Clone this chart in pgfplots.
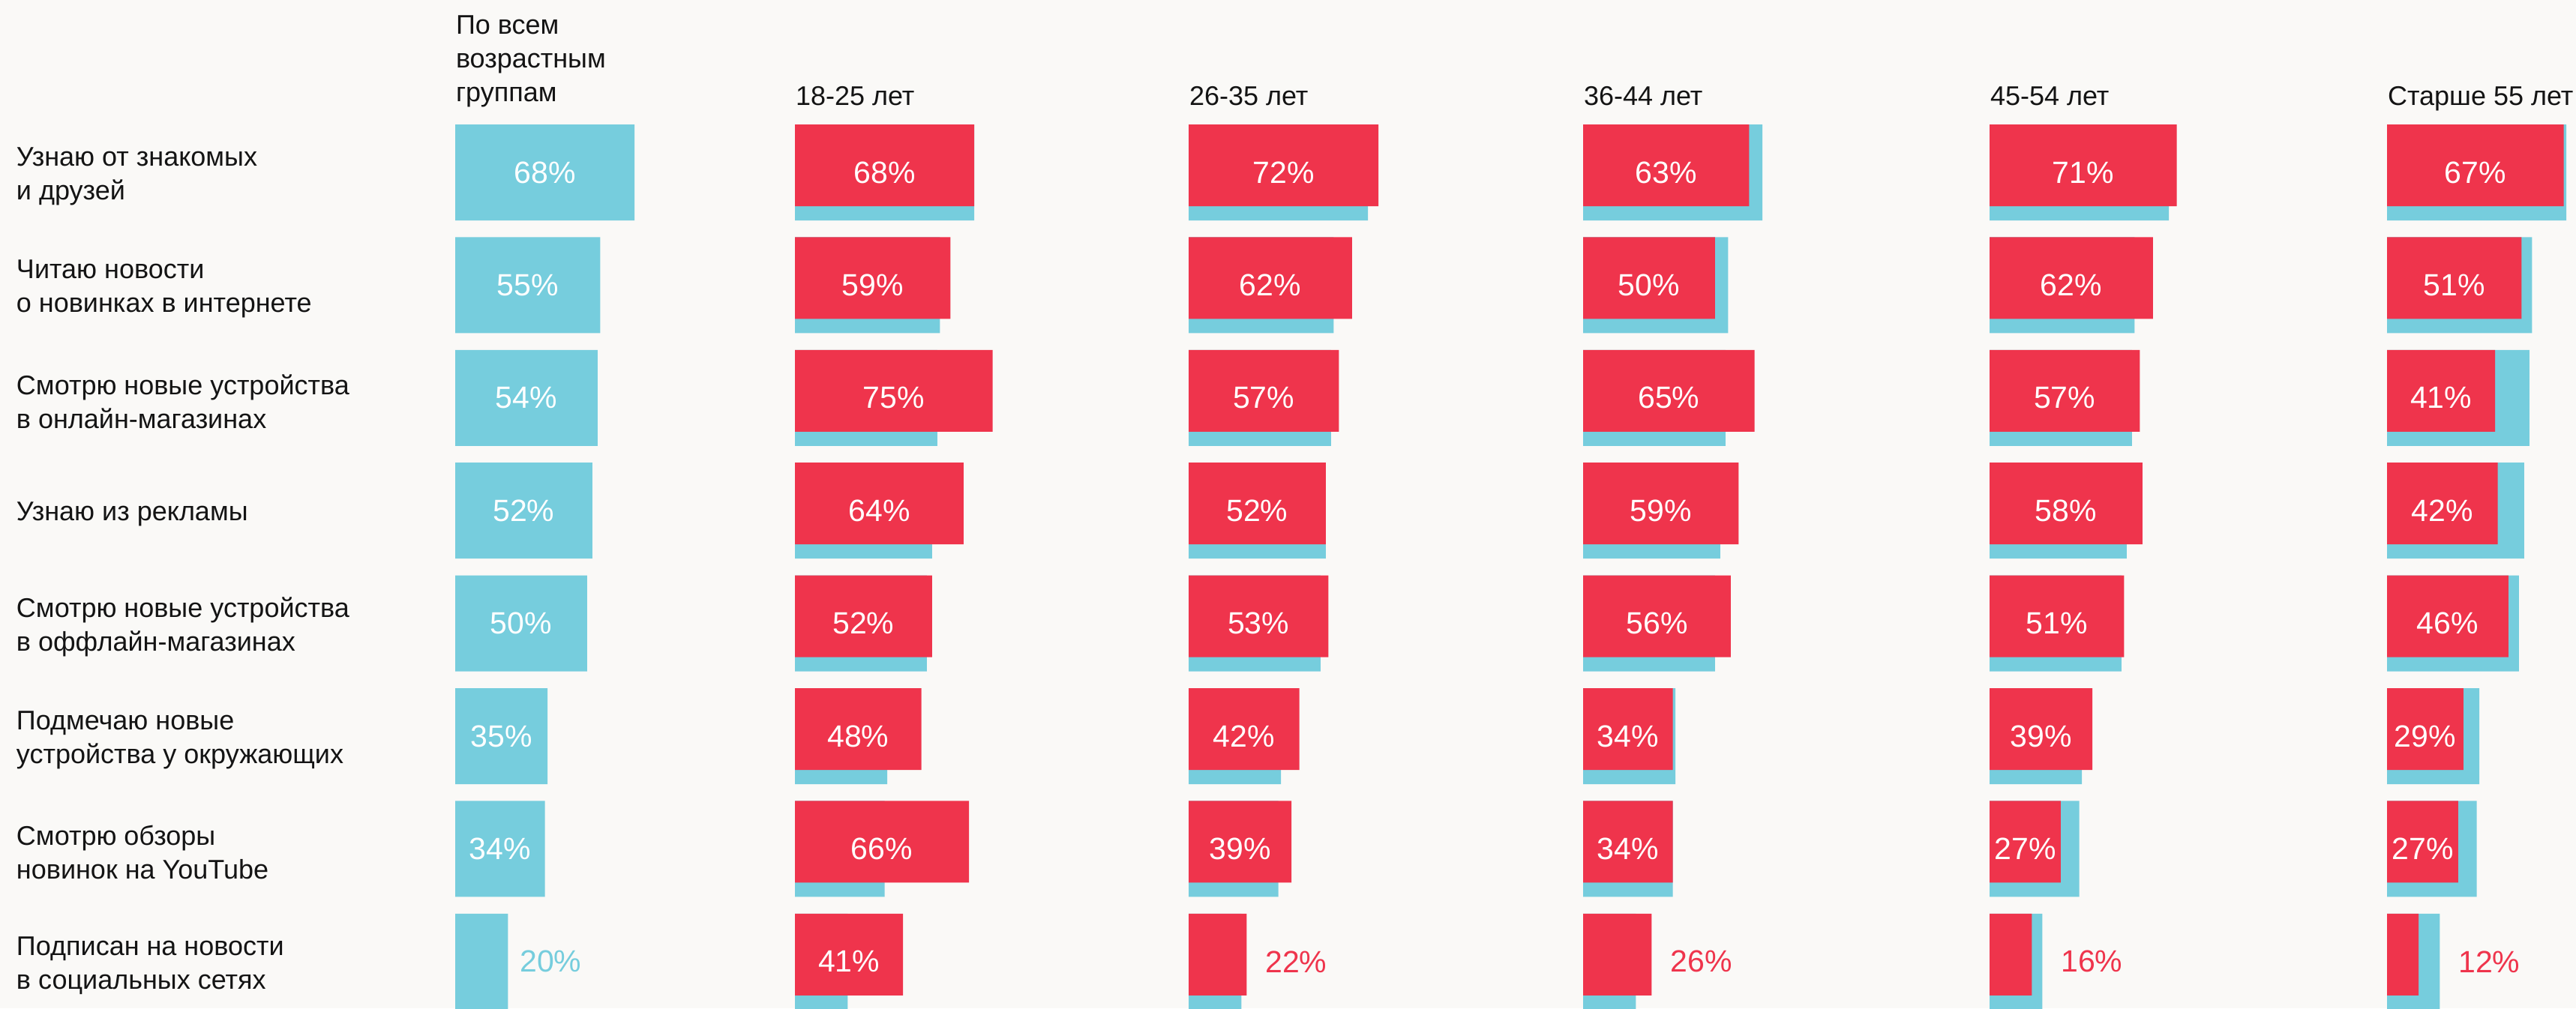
\documentclass[border=0pt]{standalone}
\usepackage{fontspec}
\setmainfont{Liberation Sans}
\usepackage{pgfplots}
\usepackage{pgfplotstable}
\pgfplotsset{compat=1.18}

\definecolor{bgc}{HTML}{FAF9F7}
\definecolor{blu}{HTML}{76CDDD}
\definecolor{rd}{HTML}{EF344C}
\definecolor{ink}{HTML}{141414}

\newcommand\lblfont{\fontsize{7.2}{9}\selectfont}
\newcommand\pctfont{\fontsize{8.2}{9}\selectfont}

% ov = all ages, a..e = 18-25, 26-35, 36-44, 45-54, 55+ (in %)
\pgfplotstableread{
row ov a  b  c  d  e
0   68 68 72 63 71 67
1   55 59 62 50 62 51
2   54 75 57 65 57 41
3   52 64 52 59 58 42
4   50 52 53 56 51 46
5   35 48 42 34 39 29
6   34 66 39 34 27 27
7   20 41 22 26 16 12
}\data

\pgfplotsset{
  /pgf/number format/assume math mode=true,
  panel/.style={
    scale only axis, width=70.3pt, height=240.64pt,
    xmin=0, xmax=100, ymin=-0.5, ymax=7.5, y dir=reverse,
    clip=false, anchor=north west,
  },
  bluebar/.style={xbar, bar width=25.6pt, bar shift=0pt, fill=blu, draw=none},
  redbar/.style={xbar, bar width=21.8pt, bar shift=1.9pt, fill=rd, draw=none},
  % #1 column, #2 colour of a label outside the bar, #3 gap
  pct/.style n args={3}{
    nodes near coords={\pgfmathprintnumber[fixed,precision=0,assume math mode=true]{\vv}\%},
    visualization depends on={\thisrow{#1}\as\vv},
    visualization depends on={\thisrow{ov}\as\ov},
    every node near coord/.append style={font=\pctfont, inner sep=0pt},
    every node near coord/.append code={%
      \pgfmathparse{\vv>26.5 ? 1 : 0}%
      \ifdim\pgfmathresult pt>0.5pt
        \pgfkeysalso{anchor=center, text=white, xshift={-\vv*0.3515pt}}%
      \else
        \pgfkeysalso{anchor=west, text=#2, xshift={(max(\vv,\ov)-\vv)*0.703pt+#3}}%
      \fi},
  },
}

\begin{document}
\begin{tikzpicture}
\fill[bgc] (0,0) rectangle (687pt,-269pt);

% all ages
\begin{axis}[panel, at={(121.4pt,-30.96pt)},
    axis x line=none, axis y line=left, axis line style={draw=none},
    major tick length=0pt,
    ytick={0,...,7},
    yticklabels={{Узнаю от знакомых\\и друзей},{Читаю новости\\о новинках в интернете},
      {Смотрю новые устройства\\в онлайн-магазинах},{Узнаю из рекламы},
      {Смотрю новые устройства\\в оффлайн-магазинах},{Подмечаю новые\\устройства у окружающих},
      {Смотрю обзоры\\новинок на YouTube},{Подписан на новости\\в социальных сетях}},
    yticklabel style={align=left, anchor=west, xshift=-117.2pt, yshift=-1pt,
      inner sep=0pt, font=\lblfont, text=ink},
  ]
  \addplot[bluebar, pct={ov}{blu}{3pt}] table[x=ov, y=row] {\data};
\end{axis}

\begin{axis}[panel, hide axis, at={(212.0pt,-30.96pt)}]
  \addplot[bluebar] table[x=ov, y=row] {\data};
  \addplot[redbar, pct={a}{rd}{4.8pt}] table[x=a, y=row] {\data};
\end{axis}

\begin{axis}[panel, hide axis, at={(317.0pt,-30.96pt)}]
  \addplot[bluebar] table[x=ov, y=row] {\data};
  \addplot[redbar, pct={b}{rd}{4.8pt}] table[x=b, y=row] {\data};
\end{axis}

\begin{axis}[panel, hide axis, at={(422.2pt,-30.96pt)}]
  \addplot[bluebar] table[x=ov, y=row] {\data};
  \addplot[redbar, pct={c}{rd}{4.8pt}] table[x=c, y=row] {\data};
\end{axis}

\begin{axis}[panel, hide axis, at={(530.6pt,-30.96pt)}]
  \addplot[bluebar] table[x=ov, y=row] {\data};
  \addplot[redbar, pct={d}{rd}{4.8pt}] table[x=d, y=row] {\data};
\end{axis}

\begin{axis}[panel, hide axis, at={(636.6pt,-30.96pt)}]
  \addplot[bluebar] table[x=ov, y=row] {\data};
  \addplot[redbar, pct={e}{rd}{4.8pt}] table[x=e, y=row] {\data};
\end{axis}

% column headers
\begin{scope}[every node/.style={anchor=base west, inner sep=0pt, font=\lblfont, text=ink}]
  \node at (121.4pt,-9pt) {По всем};
  \node at (121.4pt,-18pt) {возрастным};
  \node at (121.4pt,-27pt) {группам};
  \node at (212.0pt,-28pt) {18-25 лет};
  \node at (317.0pt,-28pt) {26-35 лет};
  \node at (422.2pt,-28pt) {36-44 лет};
  \node at (530.6pt,-28pt) {45-54 лет};
  \node at (636.6pt,-28pt) {Старше 55 лет};
\end{scope}

\pgfresetboundingbox
\path[use as bounding box] (0,0) rectangle (687pt,-269pt);
\end{tikzpicture}
\end{document}
